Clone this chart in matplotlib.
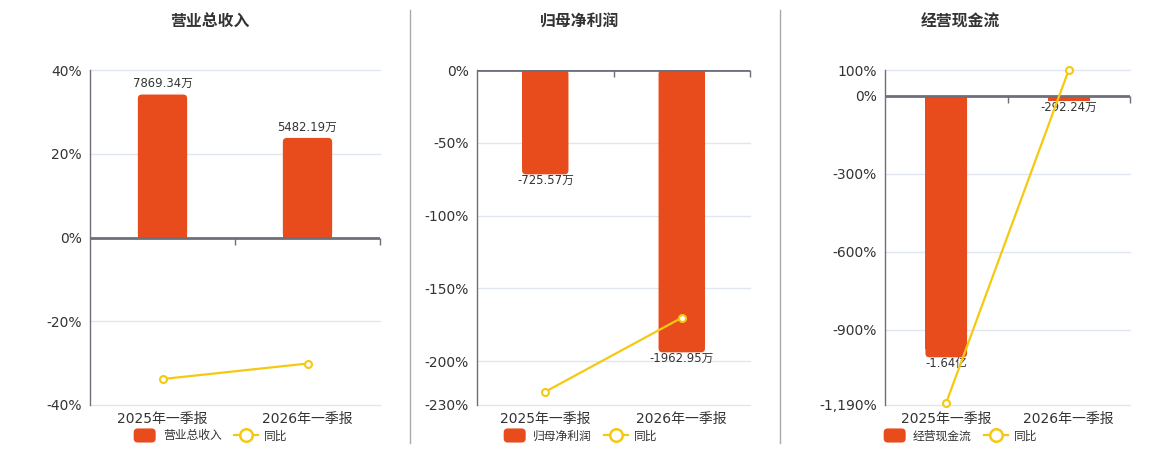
import matplotlib
matplotlib.use("Agg")
import matplotlib.pyplot as plt
from matplotlib.lines import Line2D
from matplotlib.patches import FancyBboxPatch, Rectangle
from matplotlib.legend_handler import HandlerPatch
import matplotlib.transforms as mtransforms

plt.rcParams['font.family'] = ['DejaVu Sans', 'Noto Sans CJK SC']

categories = ['2025年一季报', '2026年一季报']

titles = ['营业总收入', '归母净利润', '经营现金流']
# bar values in 万
bar_values = [
    [7869.34, 5482.19],
    [-725.57, -1962.95],
    [-16400.0, -292.24],
]
bar_labels = [
    ['7869.34万', '5482.19万'],
    ['-725.57万', '-1962.95万'],
    ['-1.64亿', '-292.24万'],
]
yoy_values = [
    [-33.8, -30.1],
    [-220.9, -170.1],
    [-1181.0, 100.0],
]
pct_ticks = [
    [40, 20, 0, -20, -40],
    [0, -50, -100, -150, -200, -230],
    [100, 0, -300, -600, -900, -1190],
]
pct_limits = [(-40, 40), (-230, 0), (-1190, 100)]
bar_limits = [(-9220, 9220), (-2329, 0), (-19394, 1630)]

BAR_COLOR = '#e84b1c'
LINE_COLOR = '#f5c912'
AXIS_COLOR = '#6e7079'
GRID_COLOR = '#e0e6f1'
TEXT_COLOR = '#333333'

W, H = 1160, 450
fig = plt.figure(figsize=(W / 100, H / 100), dpi=100)

# axes pixel boxes: left, right, top, bottom
boxes = [(90, 380, 70, 405), (477, 750, 70, 405), (885, 1130, 70, 405)]
title_x = [210, 580, 960]
legend_x = [210, 580, 960]
RADIUS_PX = 4


def fmt_pct(v):
    return f'{v:,}%'


class RoundHandler(HandlerPatch):
    def create_artists(self, legend, orig_handle, xdescent, ydescent,
                       width, height, fontsize, trans):
        p = FancyBboxPatch((-xdescent + 1, -ydescent - 1), width - 2, height + 2,
                           boxstyle='round,pad=0,rounding_size=3',
                           facecolor=BAR_COLOR, edgecolor='none', transform=trans)
        return [p]


for i in range(3):
    l, r, t, b = boxes[i]
    rect = [l / W, 1 - b / H, (r - l) / W, (b - t) / H]
    axb = fig.add_axes(rect)
    axp = axb.twinx()

    x = list(range(len(categories)))
    axb.set_xlim(-0.5, 1.5)
    axb.set_ylim(*bar_limits[i])
    axp.set_ylim(*pct_limits[i])

    bars = axb.bar(x, bar_values[i], width=0.34, color=BAR_COLOR, zorder=2,
                   linewidth=0)

    # rounded ends for bars (geometry taken from the bars themselves)
    xdpp = (1.5 - (-0.5)) / (r - l)
    ydpp = (bar_limits[i][1] - bar_limits[i][0]) / (b - t)
    rs = RADIUS_PX * xdpp
    for bar in bars:
        bx, bw, bh = bar.get_x(), bar.get_width(), bar.get_height()
        y0 = min(0, bh)
        hh = abs(bh)
        if hh / ydpp > 3 * RADIUS_PX:
            # keep the square bar up to near the end, then a rounded cap over it
            cap = 2 * RADIUS_PX * ydpp
            sign = 1 if bh > 0 else -1
            bar.set_height(bh - sign * cap)
            axb.add_patch(FancyBboxPatch((bx, y0), bw, hh,
                                         boxstyle=f'round,pad=0,rounding_size={rs}',
                                         mutation_aspect=ydpp / xdpp,
                                         facecolor=BAR_COLOR, edgecolor='none',
                                         linewidth=0, zorder=1.9))

    axb.set_yticks([])
    for s in axb.spines.values():
        s.set_visible(False)

    # gridlines beneath bars, positioned through the percent scale
    gtrans = mtransforms.blended_transform_factory(axb.transAxes, axp.transData)
    for v in pct_ticks[i]:
        if v != 0:
            axb.plot([0, 1], [v, v], color=GRID_COLOR, lw=1, zorder=0,
                     transform=gtrans, clip_on=False)

    # bar labels
    for j, bar in enumerate(bars):
        v = bar_values[i][j]
        cx = bar.get_x() + bar.get_width() / 2
        if v >= 0:
            axb.annotate(bar_labels[i][j], (cx, v),
                         xytext=(0, 3), textcoords='offset points',
                         ha='center', va='bottom', fontsize=8.4, color=TEXT_COLOR)
        else:
            axb.annotate(bar_labels[i][j], (cx, v),
                         xytext=(0, 0), textcoords='offset points',
                         ha='center', va='top', fontsize=8.4, color=TEXT_COLOR)

    # percent axis
    axp.yaxis.tick_left()
    axp.set_yticks(pct_ticks[i])
    axp.set_yticklabels([fmt_pct(v) for v in pct_ticks[i]])
    axp.tick_params(axis='y', length=0, pad=6, labelsize=10, labelcolor=TEXT_COLOR)
    for s in ['top', 'right', 'bottom']:
        axp.spines[s].set_visible(False)
    axp.spines['left'].set_color(AXIS_COLOR)
    axp.spines['left'].set_linewidth(1)
    axp.axhline(0, color=AXIS_COLOR, lw=2, zorder=3)
    axp.plot([0.5, 1.5], [0, 0], linestyle='none', marker=3, markersize=5,
             markeredgewidth=1, color=AXIS_COLOR, zorder=3, clip_on=False)

    axp.plot(x, yoy_values[i], color=LINE_COLOR, lw=1.6, marker='o',
             markersize=5, markerfacecolor='white', markeredgecolor=LINE_COLOR,
             markeredgewidth=1.5, zorder=4, clip_on=False)

    axb.set_xticks(x)
    axb.set_xticklabels(categories)
    axb.tick_params(axis='x', length=0, pad=5, labelsize=10, labelcolor=TEXT_COLOR)

    fig.text(title_x[i] / W, 1 - 22 / H, titles[i], ha='center', va='center',
             fontsize=11.4, fontweight='bold', color=TEXT_COLOR)

    h_bar = Rectangle((0, 0), 1, 1, facecolor=BAR_COLOR)
    h_line = Line2D([], [], color=LINE_COLOR, lw=1.6, marker='o', markersize=9,
                    markerfacecolor='white', markeredgecolor=LINE_COLOR,
                    markeredgewidth=1.8)
    fig.legend([h_bar, h_line], [titles[i], '同比'], loc='center',
               bbox_to_anchor=(legend_x[i] / W, 1 - 436 / H), ncol=2,
               frameon=False, fontsize=8.5, handlelength=2.1, handleheight=1.1,
               handletextpad=0.5, columnspacing=1.0, labelcolor=TEXT_COLOR,
               handler_map={Rectangle: RoundHandler()})

for xs in [410, 780]:
    fig.add_artist(Line2D([xs / W, xs / W], [1 - 443 / H, 1 - 10 / H],
                          color='#aaaaaa', lw=1, transform=fig.transFigure))

fig.savefig('out.png', dpi=100)
